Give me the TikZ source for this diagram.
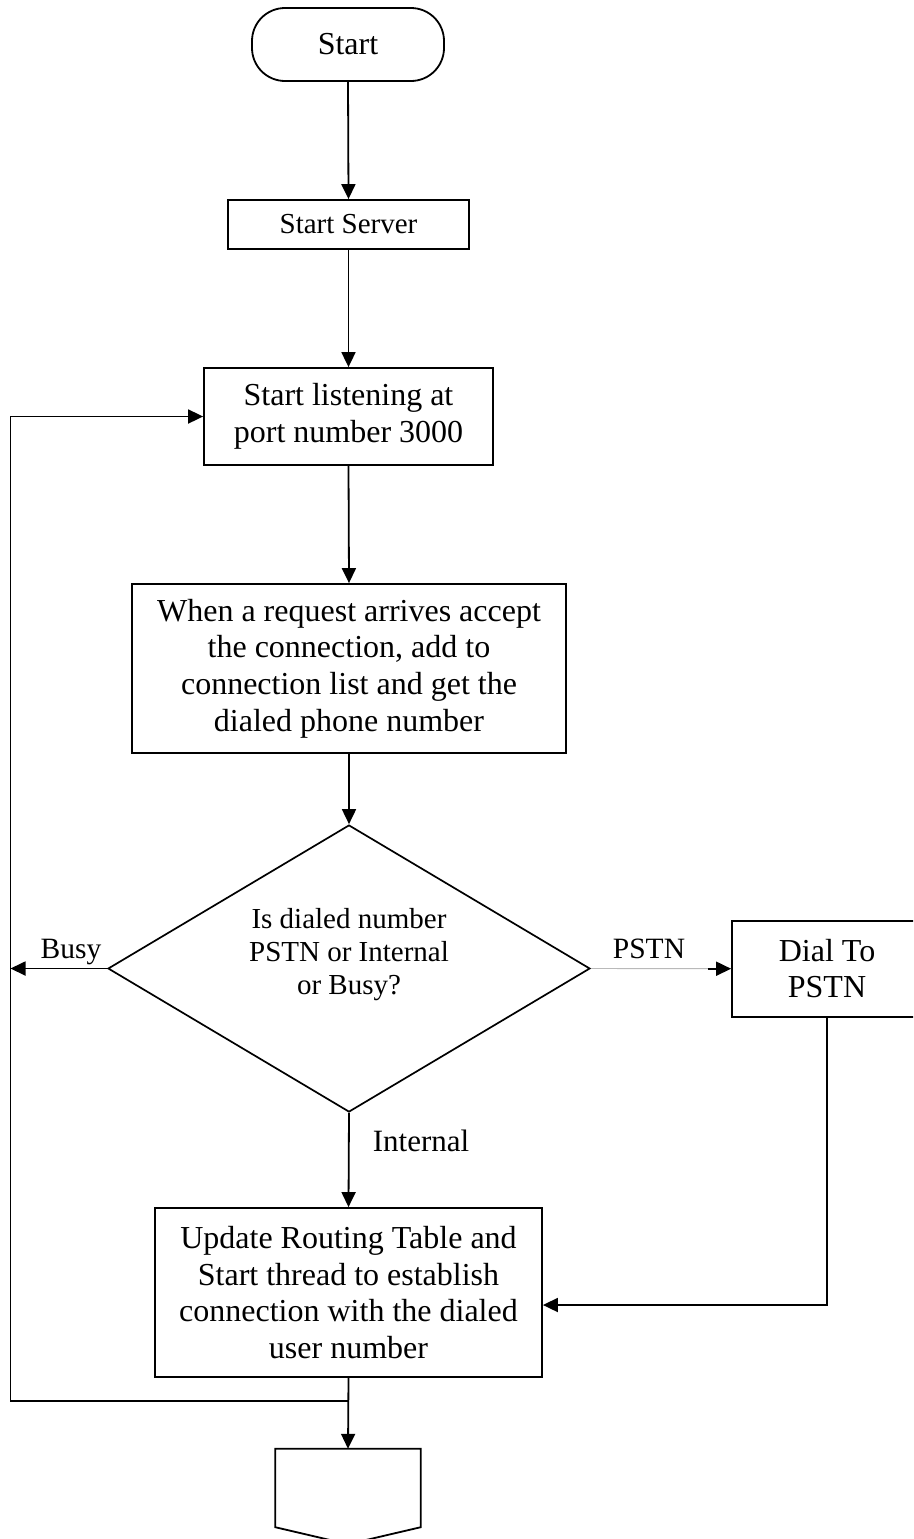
\documentclass[tikz,border=0pt]{standalone}
\usepackage{fontspec}
\setmainfont{Liberation Serif}
\usetikzlibrary{arrows.meta,shapes.geometric,calc}
\begin{document}
\begin{tikzpicture}[x=1pt,y=-1pt,
  box/.style={draw,line width=1.8pt,inner sep=0pt,align=center,font=\fontsize{32}{36.6}\selectfont},
  term/.style={draw,line width=1.8pt,rounded corners=33pt,inner sep=0pt,font=\fontsize{32}{36.6}\selectfont},
  lbl/.style={inner sep=0pt,anchor=base,font=\fontsize{29.5}{33}\selectfont},
  arr/.style={line width=1.8pt,-{Triangle[length=15pt,width=14pt]}},
  ln/.style={line width=1.8pt}
]
\useasboundingbox (0,0) rectangle (913,1539);
\clip (0,0) rectangle (913,1539);

\node[term,minimum width=192pt,minimum height=73pt] (start) at (348,44.5) {Start};
\node[box,font=\fontsize{29}{33}\selectfont,minimum width=241pt,minimum height=49pt] (server) at (348.5,224.5) {Start Server};
\node[box,minimum width=289pt,minimum height=97pt] (listen) at (348.5,416.5) {Start listening at\\port number 3000};
\node[box,minimum width=434pt,minimum height=169pt] (request) at (349,668.5) {When a request arrives accept\\the connection, add to\\connection list and get the\\dialed phone number};
\node[diamond,draw,line width=1.7pt,minimum width=482pt,minimum height=287pt,inner sep=0pt] (decision) at (349,968.5) {};
\node[align=center,inner sep=0pt,font=\fontsize{29}{33}\selectfont] (qtext) at (349,955) {Is dialed number\\PSTN or Internal\\or Busy?};
\node[box,minimum width=190pt,minimum height=96pt] (dial) at (827,968.7) {Dial To\\PSTN};
\node[box,minimum width=387pt,minimum height=169pt] (update) at (348.5,1292.5) {Update Routing Table and\\Start thread to establish\\connection with the dialed\\user number};
\node[inner sep=0pt,minimum width=145pt,minimum height=78pt] (off) at (348,1488) {};
\draw[ln] (off.north west) -- (off.north east) -- (off.south east) -- ($(off.south)+(0,17)$) -- (off.south west) -- cycle;

\node[lbl] (busy) at (71,958) {Busy};
\node[lbl] (pstn) at (649,958) {PSTN};
\node[lbl,font=\fontsize{31}{36}\selectfont] (internal) at (421,1151) {Internal};

\coordinate (junc) at (349,1401);
\coordinate (lx) at (10.5,1401);

\draw[arr] (start.south) -- (server.north);
\draw[arr] (server.south) -- (listen.north);
\draw[arr] (listen.south) -- (request.north);
\draw[arr] (request.south) -- (decision.north);
\draw[arr] (decision.south) -- (update.north);
\draw[arr] (update.south) -- (off.north);
\draw[arr] (junc) -- (lx) |- (listen.west);
\draw[arr] (decision.west) -- (decision.west -| lx);
\draw[gray!55,line width=0.9pt] (decision.east) -- (dial.west);
\draw[arr] ([xshift=-23pt]dial.west) -- (dial.west);
\draw[arr] (dial.south) |- ([yshift=-12.5pt]update.east);
\end{tikzpicture}
\end{document}
